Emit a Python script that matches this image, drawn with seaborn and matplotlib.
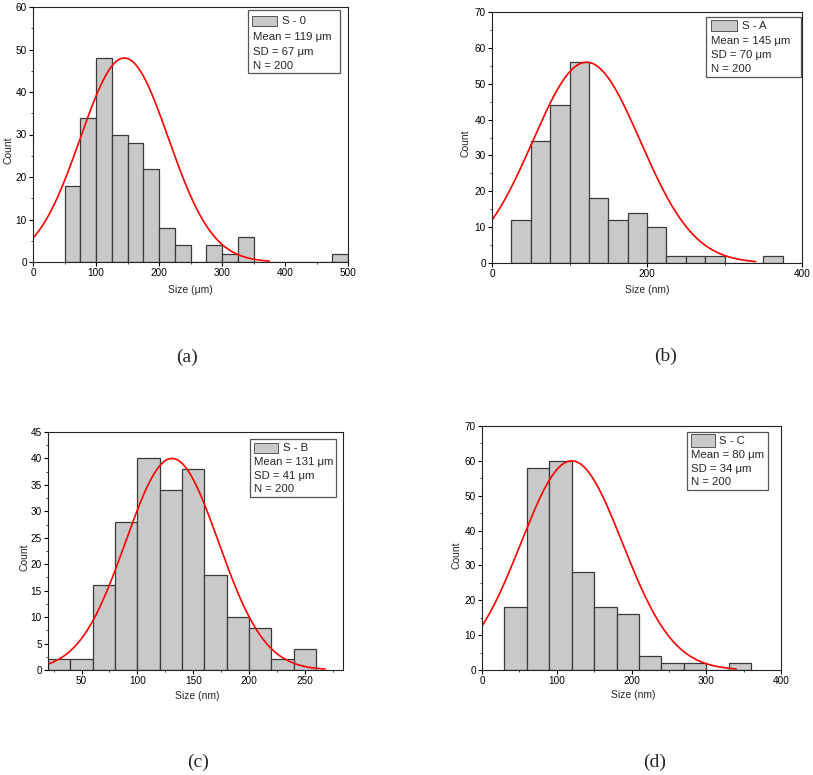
import numpy as np
import pandas as pd
import seaborn as sns
import matplotlib.pyplot as plt
from matplotlib.patches import Rectangle
from matplotlib.ticker import MultipleLocator

# ---- data ----
# (a) S - 0
a_edges = [50, 75, 100, 125, 150, 175, 200, 225, 250, 275, 300, 325, 350, 375, 400, 425, 450, 475, 500]
a_counts = [18, 34, 48, 30, 28, 22, 8, 4, 0, 4, 2, 6, 0, 0, 0, 0, 0, 2]
a_fit = dict(amp=48, mu=145, sd=70, x0=0, x1=375)
a_text = ["S - 0", "Mean = 119 \u03bcm", "SD = 67 \u03bcm", "N = 200"]

# (b) S - A
b_edges = [25, 50, 75, 100, 125, 150, 175, 200, 225, 250, 275, 300, 325, 350, 375]
b_counts = [12, 34, 44, 56, 18, 12, 14, 10, 2, 2, 2, 0, 0, 2]
b_fit = dict(amp=56, mu=122, sd=69.5, x0=0, x1=340)
b_text = ["S - A", "Mean = 145 \u03bcm", "SD = 70 \u03bcm", "N = 200"]

# (c) S - B
c_edges = [20, 40, 60, 80, 100, 120, 140, 160, 180, 200, 220, 240, 260]
c_counts = [2, 2, 16, 28, 40, 34, 38, 18, 10, 8, 2, 4]
c_fit = dict(amp=40, mu=131, sd=41.5, x0=20, x1=268)
c_text = ["S - B", "Mean = 131 \u03bcm", "SD = 41 \u03bcm", "N = 200"]

# (d) S - C
d_edges = [30, 60, 90, 120, 150, 180, 210, 240, 270, 300, 330, 360]
d_counts = [18, 58, 60, 28, 18, 16, 4, 2, 2, 0, 2]
d_fit = dict(amp=60, mu=120, sd=68, x0=0, x1=340)
d_text = ["S - C", "Mean = 80 \u03bcm", "SD = 34 \u03bcm", "N = 200"]

sns.set_style("ticks")
plt.rcParams['font.family'] = ['Liberation Sans', 'DejaVu Sans']

W, H = 813, 775
fig = plt.figure(figsize=(W / 100, H / 100), dpi=100)


def box(l, t, r, b):
    return [l / W, 1 - b / H, (r - l) / W, (b - t) / H]


def fx(x):
    return x / W


def fy(y):
    return 1 - y / H


def panel(rect, edges, counts, fit, xlim, ylim, xmaj, xmin, ymaj, xlab,
          xlab_xy, ylab_xy, legbox, patchbox, text_x0, text_x1, rows, tag, tag_xy):
    ax = fig.add_axes(box(*rect))
    centers = [(lo + hi) / 2 for lo, hi in zip(edges[:-1], edges[1:])]
    df = pd.DataFrame({"size": centers, "count": counts})
    sns.histplot(data=df, x="size", weights="count", bins=list(edges), color="#c9c9c9",
                 edgecolor="#3a3a3a", linewidth=0.9, alpha=1, ax=ax)
    xs = np.linspace(fit["x0"], fit["x1"], 300)
    ys = fit["amp"] * np.exp(-(xs - fit["mu"]) ** 2 / (2 * fit["sd"] ** 2))
    sns.lineplot(x=xs, y=ys, color="red", lw=1.2, ax=ax)
    ax.set_xlim(*xlim)
    ax.set_ylim(*ylim)
    ax.xaxis.set_major_locator(MultipleLocator(xmaj))
    ax.xaxis.set_minor_locator(MultipleLocator(xmin))
    ax.yaxis.set_major_locator(MultipleLocator(ymaj))
    ax.yaxis.set_minor_locator(MultipleLocator(ymaj / 2))
    ax.tick_params(which="major", direction="out", length=3, width=0.8,
                   labelsize=7.2, pad=1.5, colors="black")
    ax.tick_params(which="minor", direction="out", length=1.6, width=0.6)
    for s in ax.spines.values():
        s.set_linewidth(0.8)
        s.set_color("#222222")
    ax.set_xlabel("")
    ax.set_ylabel("")
    fig.text(fx(xlab_xy[0]), fy(xlab_xy[1]), xlab, ha="center", va="center", fontsize=7.5)
    fig.text(fx(ylab_xy[0]), fy(ylab_xy[1]), "Count", ha="center", va="center",
             rotation=90, fontsize=7.5)

    # legend box
    l, t, r, b = legbox
    fig.patches.append(Rectangle((fx(l), fy(b)), fx(r - l), (b - t) / H,
                                 transform=fig.transFigure, fc="white",
                                 ec="#555555", lw=0.9, zorder=5))
    pl, pt, pr, pb = patchbox
    fig.patches.append(Rectangle((fx(pl), fy(pb)), fx(pr - pl), (pb - pt) / H,
                                 transform=fig.transFigure, fc="#c9c9c9",
                                 ec="#555555", lw=0.7, zorder=6))
    for i, (txt, yy) in enumerate(zip(tag[1], rows)):
        x0 = text_x0 if i == 0 else text_x1
        fig.text(fx(x0), fy(yy), txt, ha="left", va="center", fontsize=8.2, zorder=7)
    fig.text(fx(tag_xy[0]), fy(tag_xy[1]), tag[0], ha="center", va="center",
             fontsize=14, family=["Liberation Serif", "DejaVu Serif"])
    return ax


panel((33, 7, 348, 262), a_edges, a_counts, a_fit, (0, 500), (0, 60), 100, 50, 10,
      "Size (\u03bcm)", (190, 290), (8, 150),
      (248, 10, 340, 73), (252, 16, 277, 26), 282, 253, [21, 37, 52, 66],
      ("(a)", a_text), (187, 357))

panel((492, 12, 802, 263), b_edges, b_counts, b_fit, (0, 400), (0, 70), 200, 100, 10,
      "Size (nm)", (647, 290), (465, 143),
      (706, 17, 801, 77), (711, 20, 737, 31), 742, 711, [26, 41, 55, 69],
      ("(b)", b_text), (666, 356))

panel((48, 432, 343, 670), c_edges, c_counts, c_fit, (20, 284), (0, 45), 50, 25, 5,
      "Size (nm)", (197, 696), (24, 557),
      (250, 439, 336, 497), (254, 443, 278, 453), 283, 254, [448, 462, 476, 489],
      ("(c)", c_text), (198, 762))

panel((482, 426, 781, 670), d_edges, d_counts, d_fit, (0, 400), (0, 70), 100, 50, 10,
      "Size (nm)", (633, 695), (456, 555),
      (687, 432, 768, 490), (691, 434, 715, 447), 719, 691, [441, 455, 469, 482],
      ("(d)", d_text), (655, 762))

fig.savefig("out.png", dpi=100)
